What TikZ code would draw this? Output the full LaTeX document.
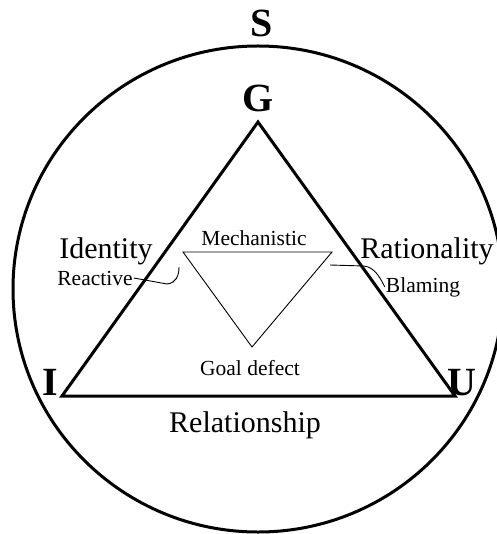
\documentclass[tikz,border=0pt]{standalone}
\usepackage{fontspec}
\setmainfont{Liberation Serif}
\usepackage{tikz}
\usetikzlibrary{positioning}

\begin{document}
\begin{tikzpicture}[x=1pt,y=-1pt,
  ring/.style={black, line width=3pt},
  side/.style={black, line width=3pt},
  inner/.style={black, line width=0.9pt},
  corner/.style={anchor=base, font=\fontsize{40}{44}\selectfont\bfseries},
  big/.style={anchor=base, font=\fontsize{30}{34}\selectfont},
  small/.style={anchor=base, font=\fontsize{21.5}{24}\selectfont}]

\useasboundingbox (0,0) rectangle (496,534);

% outer circle
\coordinate (c) at (258,289);
\draw[ring] (c) ellipse [x radius=245, y radius=243];
\node[corner] (S) at (262,37) {S};

% big triangle
\coordinate (g) at (258,122);
\coordinate (i) at (62,396);
\coordinate (u) at (455,396);
\draw[side] (g) -- (u) -- (i) -- cycle;
\node[corner] (G) at (258,112) {G};
\node[corner] (I) at (50,395) {I};
\node[corner] (U) at (462,395) {U};

% small triangle
\coordinate (m1) at (183,252);
\coordinate (m2) at (332,252);
\coordinate (m3) at (252,347);
\draw[inner] (m1) -- (m2) -- (m3) -- cycle;

\node[big] (identity) at (106,258) {Identity};
\node[big] (rationality) at (427,258) {Rationality};
\node[big] (relationship) at (245,432) {Relationship};
\node[small] (mechanistic) at (254,245) {Mechanistic};
\node[small] (goal) at (250,375) {Goal defect};
\node[small, inner sep=1pt] (reactive) at (95,285) {Reactive};
\node[small, inner sep=1pt] (blaming) at (423,292) {Blaming};

% connectors
\coordinate (ra) at (167,284);
\coordinate (rb) at (179,267);
\draw[inner] (reactive.east) -- (ra) .. controls (176,283) and (179,276) .. (rb);
\coordinate (ba) at (330,265);
\coordinate (bb) at (364,266);
\draw[inner] (ba) -- (bb) .. controls (376,267) and (382,282) .. (blaming.west);

\end{tikzpicture}
\end{document}
